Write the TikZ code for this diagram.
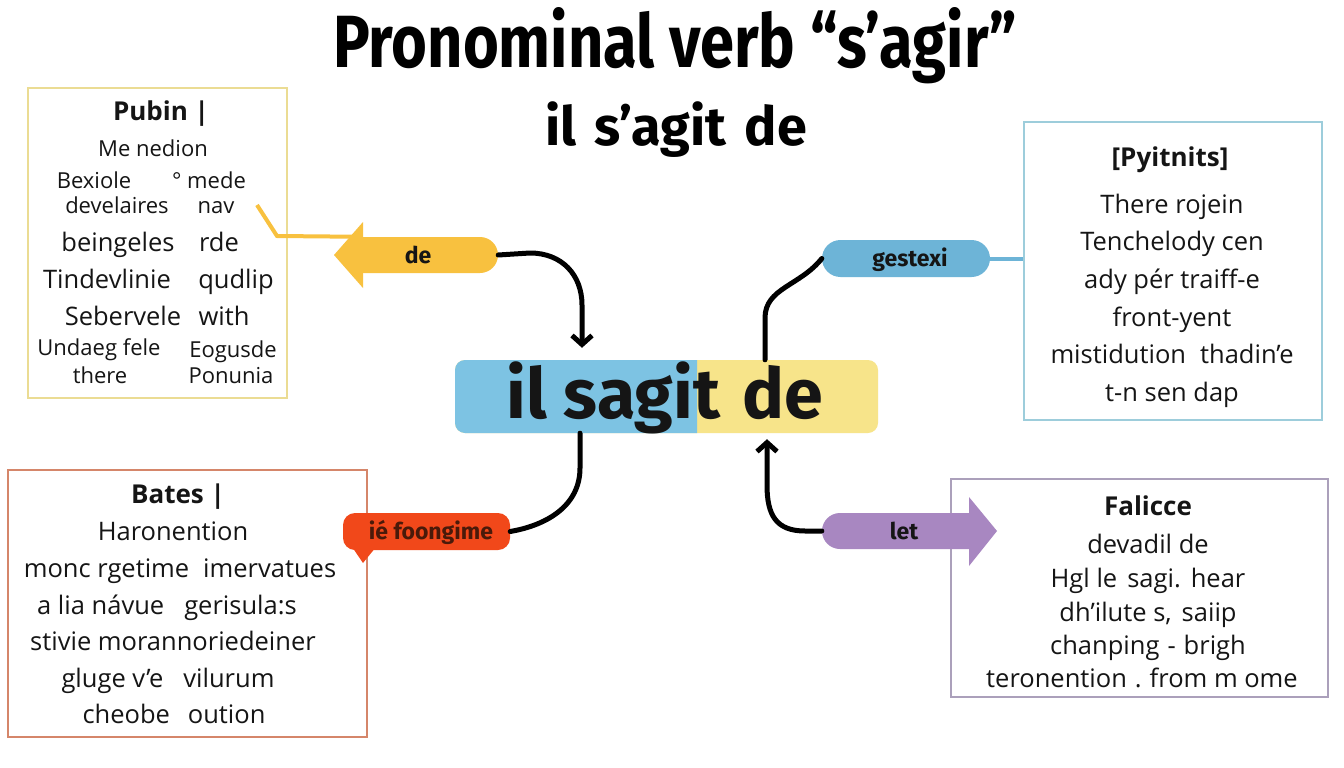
\documentclass[tikz,border=0pt]{standalone}
\usepackage{fontspec}
\setmainfont{Open Sans}
\newfontfamily\titlefont[FakeStretch=0.83]{Fira Sans}
\newfontfamily\firafont{Fira Sans}
\usetikzlibrary{arrows.meta,shapes.misc}
\definecolor{ylw}{HTML}{F8C13F}
\definecolor{ctrblue}{HTML}{7DC3E3}
\definecolor{ctryel}{HTML}{F7E48A}
\definecolor{gblue}{HTML}{6DB4D7}
\definecolor{rred}{HTML}{F1481A}
\definecolor{rtext}{HTML}{4A1A0A}
\definecolor{purp}{HTML}{A887C1}
\definecolor{bxyel}{HTML}{EBDC93}
\definecolor{bxblue}{HTML}{9DCDDB}
\definecolor{bxred}{HTML}{D5866A}
\definecolor{bxpurp}{HTML}{ABA0BB}
\definecolor{ink}{HTML}{151515}
\tikzset{
  box/.style={draw, line width=1.8pt, fill=white, inner sep=0pt},
  txt/.style={anchor=base, yshift=-9pt, inner sep=0pt, text=ink, font=\fontsize{25.5}{28}\selectfont},
  stxt/.style={anchor=base, yshift=-8pt, inner sep=0pt, text=ink, font=\fontsize{22}{26}\selectfont},
  hd/.style={anchor=base, yshift=-9pt, inner sep=0pt, text=ink, font=\bfseries\fontsize{26}{28}\selectfont},
  tag/.style={anchor=base, yshift=-8pt, inner sep=0pt, text=ink, font=\firafont\bfseries\fontsize{23}{26}\selectfont},
  conn/.style={line width=5pt, draw=black, line cap=round},
  tipx/.style={-{Straight Barb[length=9pt,width=20pt]}}
}
\begin{document}
\begin{tikzpicture}[x=1pt,y=-1pt]
\useasboundingbox (0,0) rectangle (1344,768);
\fill[white] (0,0) rectangle (1344,768);

% titles
\node[anchor=base, inner sep=0pt, font=\titlefont\bfseries\fontsize{74}{80}\selectfont] (title) at (675,67) {Pronominal verb “s’agir”};
\node[anchor=base, inner sep=0pt, font=\firafont\bfseries\fontsize{54}{60}\selectfont] (subtitle) at (676,145) {il\hspace{18pt}s’agit\hspace{18pt}de};

% boxes
\node[box, draw=bxyel, minimum width=259pt, minimum height=310pt] (tl) at (157.5,243) {};
\node[box, draw=bxblue, minimum width=298pt, minimum height=298pt] (tr) at (1173,271) {};
\node[box, draw=bxred, minimum width=359pt, minimum height=267pt] (bl) at (187.5,603.5) {};
\node[box, draw=bxpurp, minimum width=377pt, minimum height=218pt] (br) at (1139.5,588) {};

% top-left text
\node[hd] (tlh) at (161,112) {Pubin |};
\node[stxt] (tl1) at (153,148) {Me nedion};
\node[stxt] (tl2a) at (94,180) {Bexiole};
\node[stxt] (tl2b) at (209,180) {° mede};
\node[stxt] (tl3a) at (117,205) {develaires};
\node[stxt] (tl3b) at (216,205) {nav};
\node[txt] (tl4a) at (118,242) {beingeles};
\node[txt] (tl4b) at (219,242) {rde};
\node[txt] (tl5a) at (107,279) {Tindevlinie};
\node[txt] (tl5b) at (236,279) {qudlip};
\node[txt] (tl6a) at (123,316) {Sebervele};
\node[txt] (tl6b) at (224,316) {with};
\node[stxt] (tl7a) at (99,347) {Undaeg fele};
\node[stxt] (tl7b) at (233,349) {Eogusde};
\node[stxt] (tl8a) at (100,375) {there};
\node[stxt] (tl8b) at (231,375) {Ponunia};

% top-right text
\node[hd] (trh) at (1170,157) {[Pyitnits]};
\node[txt] (tr1) at (1172,204) {There rojein};
\node[txt] (tr2) at (1172,241) {Tenchelody cen};
\node[txt] (tr3) at (1172,279) {ady pér traiff-e};
\node[txt] (tr4) at (1172,317) {front-yent};
\node[txt] (tr5) at (1172,354) {mistidution\hspace{14pt}thadin’e};
\node[txt] (tr6) at (1172,392) {t-n sen dap};

% bottom-left text
\node[hd] (blh) at (178,494) {Bates |};
\node[txt] (bl1) at (173,531) {Haronention};
\node[txt] (bl2) at (180,568) {monc rgetime\hspace{14pt}imervatues};
\node[txt] (bl3) at (167,605) {a lia návue\hspace{20pt}gerisula:s};
\node[txt] (bl4) at (173,641) {stivie morannoriedeiner};
\node[txt] (bl5) at (168,678) {gluge v’e\hspace{20pt}vilurum};
\node[txt] (bl6) at (174,714) {cheobe\hspace{18pt}oution};

% bottom-right text
\node[hd] (brh) at (1148,506) {Falicce};
\node[txt] (br1) at (1148,544) {devadil de};
\node[txt] (br2) at (1148,578) {Hgl le\hspace{10pt}sagi.\hspace{10pt}hear};
\node[txt] (br3) at (1148,612) {dh’ilute s,\hspace{10pt}saiip};
\node[txt] (br4) at (1148,645) {chanping\hspace{8pt}-\hspace{8pt}brigh};
\node[txt] (br5) at (1142,678) {teronention\hspace{8pt}.\hspace{8pt}from m ome};

% center node
\node[fill=ctryel, rounded corners=10pt, minimum width=423pt, minimum height=73pt, inner sep=0pt] (ctr) at (666.5,396.5) {};
\fill[ctrblue] (697,360) [rounded corners=10pt] -- (455,360) -- (455,433) [sharp corners] -- (697,433) -- cycle;
\node[anchor=base, inner sep=0pt, text=ink, font=\firafont\bfseries\fontsize{70}{76}\selectfont] (ctrtxt) at (665,418) {il sagit\hspace{6pt} de};

% yellow connector to top-left box
\node[rounded rectangle, rounded rectangle west arc=none, fill=ylw, minimum width=136pt, minimum height=36pt, inner sep=0pt] (de) at (430,255) {};
\draw[ylw, line width=4pt] (de.north west) -- (277,236) -- (257,205);
\fill[ylw] (363,222) -- (334,255) -- (363,288) -- cycle;
\node[tag] (delbl) at (418,255) {de};

% gestexi
\node[rounded rectangle, fill=gblue, minimum width=168pt, minimum height=37pt, inner sep=0pt] (gx) at (906,258.5) {};
\node[tag] (gxlbl) at (910,258) {gestexi};
\draw[gblue, line width=4pt] (gx.east) -- (gx.east -| tr.west);

% ie foongime callout
\fill[rred] (346,538) -- (363,563) -- (376,547) -- cycle;
\node[fill=rred, rounded corners=12pt, minimum width=167pt, minimum height=37pt, inner sep=0pt] (ie) at (426.5,531.5) {};
\node[tag, text=rtext] (ielbl) at (431,531) {ié foongime};

% let arrow
\node[rounded rectangle, rounded rectangle east arc=none, fill=purp, minimum width=148pt, minimum height=36pt, inner sep=0pt] (lt) at (896,531) {};
\fill[purp] (969,497) -- (997,531) -- (969,566) -- cycle;
\node[tag] (ltlbl) at (904,531) {let};

% black connectors
\draw[conn, tipx] (de.east) -- (530,253) .. controls (562,253) and (582,275) .. (582,305) -- ([xshift=-84.5pt, yshift=12pt]ctr.north);
\draw[conn] ([xshift=98.5pt]ctr.north) -- (765,318) .. controls (765,288) and (800,286) .. (gx.west);
\draw[conn] ([xshift=-86.5pt]ctr.south) -- (580,468) .. controls (580,505) and (548,525) .. (ie.east);
\draw[conn, tipx] (lt.west) -- (805,531) .. controls (776,531) and (767,515) .. (767,485) -- ([xshift=100.5pt, yshift=-6pt]ctr.south);
\end{tikzpicture}
\end{document}
